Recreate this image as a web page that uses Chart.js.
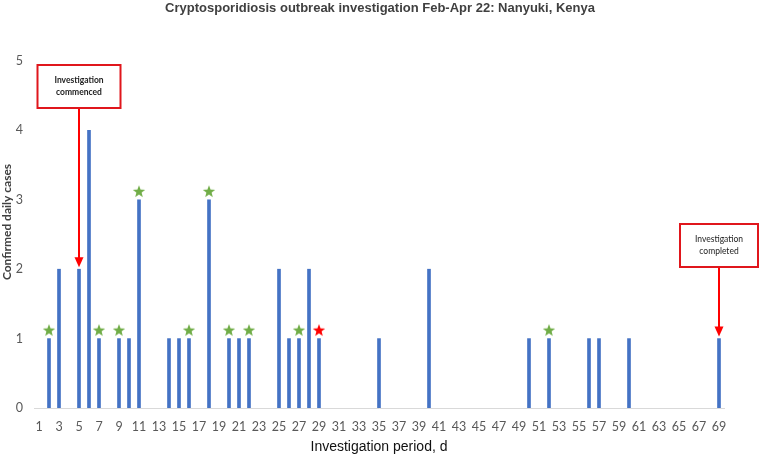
<!DOCTYPE html>
<html>
<head>
<meta charset="utf-8">
<script src="https://cdn.jsdelivr.net/npm/chart.js@4.4.1/dist/chart.umd.min.js"></script>
<style>
  html, body { margin: 0; padding: 0; background: #fff; }
  #wrap { width: 760px; height: 456px; }
</style>
</head>
<body>
<div id="wrap"><canvas id="outbreakChart" width="760" height="456"></canvas></div>
<script>
// investigation days 1..69
var days = ['1','2','3','4','5','6','7','8','9','10','11','12','13','14','15','16','17','18','19','20',
    '21','22','23','24','25','26','27','28','29','30','31','32','33','34','35','36','37','38','39','40',
    '41','42','43','44','45','46','47','48','49','50','51','52','53','54','55','56','57','58','59','60',
    '61','62','63','64','65','66','67','68','69'];

// confirmed daily cases per day
var dailyCases = [0,1,2,0,2,4,1,0,1,1,3,0,0,1,1,1,0,3,0,1,
    1,1,0,0,2,1,1,2,1,0,0,0,0,0,1,0,0,0,0,2,
    0,0,0,0,0,0,0,0,0,1,0,1,0,0,0,1,1,0,0,1,
    0,0,0,0,0,0,0,0,1];

// days marked with a star above the bar
var greenStarDays = ['2','7','9','11','16','18','20','22','27','52'];
var redStarDays = ['29'];

var yTicks = [0, 1, 2, 3, 4, 5];

var chartTitle = 'Cryptosporidiosis outbreak investigation Feb-Apr 22: Nanyuki, Kenya';
var xTitle = 'Investigation period, d';
var yTitle = 'Confirmed daily cases';

// call-out boxes (top given in y units)
var callouts = [
    {day: '5', lines: ['Investigation', 'commenced'], top: 4.94, width: 83, bold: true},
    {day: '69', lines: ['Investigation', 'completed'], top: 2.65, width: 78, bold: false}
];

function makeStar(color) {
    var c = document.createElement('canvas');
    c.width = 14;
    c.height = 30;
    var g = c.getContext('2d');
    var cx = 7, cy = 7, outer = 6.5, inner = 2.7;
    g.beginPath();
    for (var i = 0; i < 10; i++) {
        var r = i % 2 === 0 ? outer : inner;
        var a = -Math.PI / 2 + i * Math.PI / 5;
        var px = cx + r * Math.cos(a), py = cy + r * Math.sin(a);
        if (i === 0) g.moveTo(px, py); else g.lineTo(px, py);
    }
    g.closePath();
    g.fillStyle = color;
    g.fill();
    return c;
}

function starSeries(list) {
    return days.map(function (d, i) {
        return list.indexOf(d) >= 0 ? dailyCases[i] : null;
    });
}

// chart title centred on the whole canvas, y title a bit above centre
var textPlugin = {
    id: 'texts',
    afterDraw: function (chart) {
        var ctx = chart.ctx;
        ctx.save();
        ctx.fillStyle = '#404040';
        ctx.textAlign = 'center';
        ctx.textBaseline = 'middle';
        ctx.font = 'bold 13px "Liberation Sans", Arial, sans-serif';
        ctx.fillText(chartTitle, chart.width / 2, 8);
        ctx.translate(7, 222);
        ctx.rotate(-Math.PI / 2);
        ctx.font = 'bold 12px Lato, sans-serif';
        ctx.fillText(yTitle, 0, 0);
        ctx.restore();
    }
};

var calloutPlugin = {
    id: 'callouts',
    afterDatasetsDraw: function (chart) {
        var ctx = chart.ctx;
        var xs = chart.scales.x, ys = chart.scales.y;
        var boxH = 43;
        callouts.forEach(function (c) {
            var idx = days.indexOf(c.day);
            var cx = Math.round(xs.getPixelForValue(idx));
            var top = Math.round(ys.getPixelForValue(c.top));
            var tipY = ys.getPixelForValue(dailyCases[idx]) - 2;
            ctx.save();
            // arrow
            ctx.strokeStyle = '#ff0000';
            ctx.fillStyle = '#ff0000';
            ctx.lineWidth = 2;
            ctx.beginPath();
            ctx.moveTo(cx, top + boxH);
            ctx.lineTo(cx, tipY - 8);
            ctx.stroke();
            ctx.beginPath();
            ctx.moveTo(cx - 4.5, tipY - 10);
            ctx.lineTo(cx + 4.5, tipY - 10);
            ctx.lineTo(cx, tipY);
            ctx.closePath();
            ctx.fill();
            // box
            ctx.fillStyle = '#ffffff';
            ctx.fillRect(cx - c.width / 2, top, c.width, boxH);
            ctx.strokeStyle = '#e0161c';
            ctx.strokeRect(cx - c.width / 2, top, c.width, boxH);
            ctx.fillStyle = '#222';
            ctx.font = (c.bold ? 'bold 8.5px' : '8.5px') + ' Lato, sans-serif';
            ctx.textAlign = 'center';
            ctx.textBaseline = 'middle';
            ctx.fillText(c.lines[0], cx, top + boxH / 2 - 6);
            ctx.fillText(c.lines[1], cx, top + boxH / 2 + 6);
            ctx.restore();
        });
    }
};

var ctx = document.getElementById('outbreakChart').getContext('2d');
new Chart(ctx, {
    type: 'bar',
    data: {
        labels: days,
        datasets: [{
            type: 'line',
            label: 'green stars',
            data: starSeries(greenStarDays),
            showLine: false,
            pointStyle: makeStar('#70ad47'),
            order: 0
        }, {
            type: 'line',
            label: 'red star',
            data: starSeries(redStarDays),
            showLine: false,
            pointStyle: makeStar('#ff0000'),
            order: 0
        }, {
            label: 'Confirmed daily cases',
            data: dailyCases,
            backgroundColor: function (context) {
                return context.raw > 0 ? '#4472c4' : 'rgba(0,0,0,0)';
            },
            barThickness: 3,
            order: 1
        }]
    },
    options: {
        responsive: false,
        animation: false,
        layout: {
            padding: {left: 0, right: 36, top: 61, bottom: 0}
        },
        scales: {
            x: {
                grid: {display: false, drawTicks: false},
                border: {display: true, color: '#d9d9d9', width: 1},
                ticks: {
                    autoSkip: false,
                    maxRotation: 0,
                    padding: 11,
                    color: '#595959',
                    font: {family: 'Lato, sans-serif', size: 12.5},
                    callback: function (value, index) {
                        return index % 2 === 0 ? days[index] : '';
                    }
                },
                title: {
                    display: true,
                    text: xTitle,
                    color: '#111',
                    padding: {top: 0, bottom: 0},
                    font: {family: '"Liberation Sans", Arial, sans-serif', size: 14}
                },
                afterFit: function (scale) {
                    scale.height = 48;
                }
            },
            y: {
                min: 0,
                max: 5,
                grid: {display: false, drawTicks: false},
                border: {display: false},
                afterBuildTicks: function (scale) {
                    scale.ticks = yTicks.map(function (v) { return {value: v}; });
                },
                ticks: {
                    padding: 11,
                    color: '#595959',
                    font: {family: 'Lato, sans-serif', size: 12.5}
                },
                afterFit: function (scale) {
                    scale.width = 34;
                }
            }
        },
        plugins: {
            legend: {display: false},
            tooltip: {enabled: false},
            title: {display: false}
        }
    },
    plugins: [calloutPlugin, textPlugin]
});
</script>
</body>
</html>
